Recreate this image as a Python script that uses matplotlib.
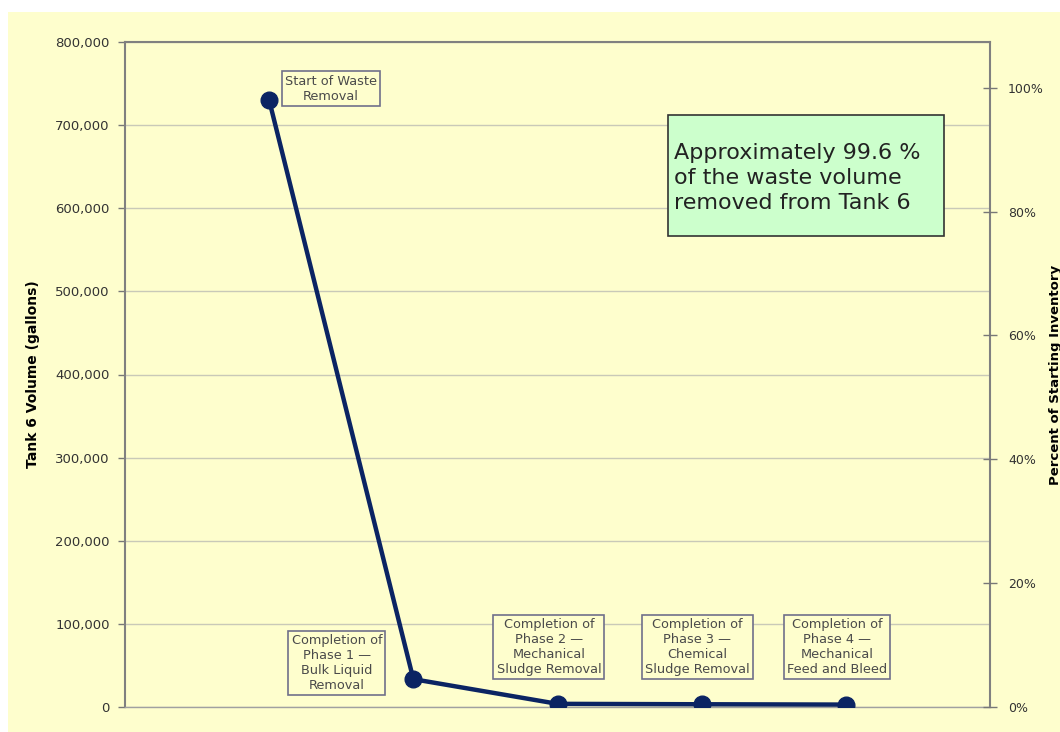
import matplotlib.pyplot as plt
from matplotlib.patches import Rectangle
from matplotlib.ticker import FuncFormatter, MultipleLocator

# Datos
etapas = [1, 2, 3, 4, 5]
volumen = [730000, 33500, 3800, 3300, 2900]
etiquetas = ["Start of Waste\nRemoval",
             "Completion of\nPhase 1 \u2014\nBulk Liquid\nRemoval",
             "Completion of\nPhase 2 \u2014\nMechanical\nSludge Removal",
             "Completion of\nPhase 3 \u2014\nChemical\nSludge Removal",
             "Completion of\nPhase 4 \u2014\nMechanical\nFeed and Bleed"]
etiqueta_x = [1.43, 1.47, 2.94, 3.97, 4.94]
etiqueta_y = [744000, 53000, 72000, 72000, 72000]
volumen_inicial = 745000
nota = "Approximately 99.6 %\nof the waste volume\nremoved from Tank 6"

amarillo = "#fefecd"
azul = "#0b2463"

fig = plt.figure(figsize=(10.6, 7.32), dpi=100)
fondo = Rectangle((8 / 1060, 0), 1, 1 - 12 / 732, transform=fig.transFigure,
                  facecolor=amarillo, edgecolor="none", zorder=-10)
fig.patches.append(fondo)

ax = fig.add_axes([125 / 1060, 1 - 707 / 732, 865 / 1060, 665 / 732])
ax.set_facecolor(amarillo)

ax.plot(etapas, volumen, color=azul, linewidth=3.2, marker="o", markersize=12, zorder=3)

ax.set_xlim(0, 6)
ax.set_ylim(0, 800000)
ax.yaxis.set_major_locator(MultipleLocator(100000))
ax.yaxis.set_major_formatter(FuncFormatter(lambda v, p: f"{int(v):,}"))
ax.set_xticks([])
ax.grid(axis="y", color="#c9c9b8", linewidth=1)
ax.set_axisbelow(True)
ax.tick_params(axis="y", labelsize=9.5, labelcolor="#333333", color="#777777",
               length=5, width=1, pad=6)
for s in ax.spines.values():
    s.set_color("#808080")
    s.set_linewidth(1.5)
ax.spines["bottom"].set_color("#a0a0a0")
ax.spines["bottom"].set_linewidth(1)
ax.set_ylabel("Tank 6 Volume (gallons)", fontsize=10, fontweight="bold", labelpad=11)

# Eje derecho en porcentaje
ax2 = ax.twinx()
ax2.set_ylim(0, 800000 / volumen_inicial * 100)
ax2.set_yticks([0, 20, 40, 60, 80, 100])
ax2.yaxis.set_major_formatter(FuncFormatter(lambda v, p: f"{int(v)}%"))
ax2.tick_params(axis="y", labelsize=9, labelcolor="#333333", color="#777777",
                direction="inout", length=10, width=1, pad=8)
for s in ax2.spines.values():
    s.set_visible(False)
ax2.set_ylabel("Percent of Starting Inventory", fontsize=9.5, fontweight="bold")
ax2.yaxis.set_label_coords(1.068, 0.5)

# Etiquetas de cada punto
for x, y, t in zip(etiqueta_x, etiqueta_y, etiquetas):
    ax.text(x, y, t, ha="center", va="center", fontsize=9.3, color="#4a4a4a",
            zorder=4, bbox=dict(boxstyle="square,pad=0.25", facecolor=amarillo,
                                edgecolor="#70708a", linewidth=1.2))

# Nota en verde
ax.add_patch(Rectangle(((668 - 125) / 865, (707 - 236) / 665), 276 / 865, 121 / 665,
                       transform=ax.transAxes, facecolor="#ccffcc", edgecolor="#333333",
                       linewidth=1.2, zorder=4))
ax.text((674 - 125) / 865, (707 - 178) / 665, nota, transform=ax.transAxes,
        ha="left", va="center", fontsize=16, color="#222222", linespacing=1.3, zorder=5)

fig.savefig("out.png", dpi=100)
